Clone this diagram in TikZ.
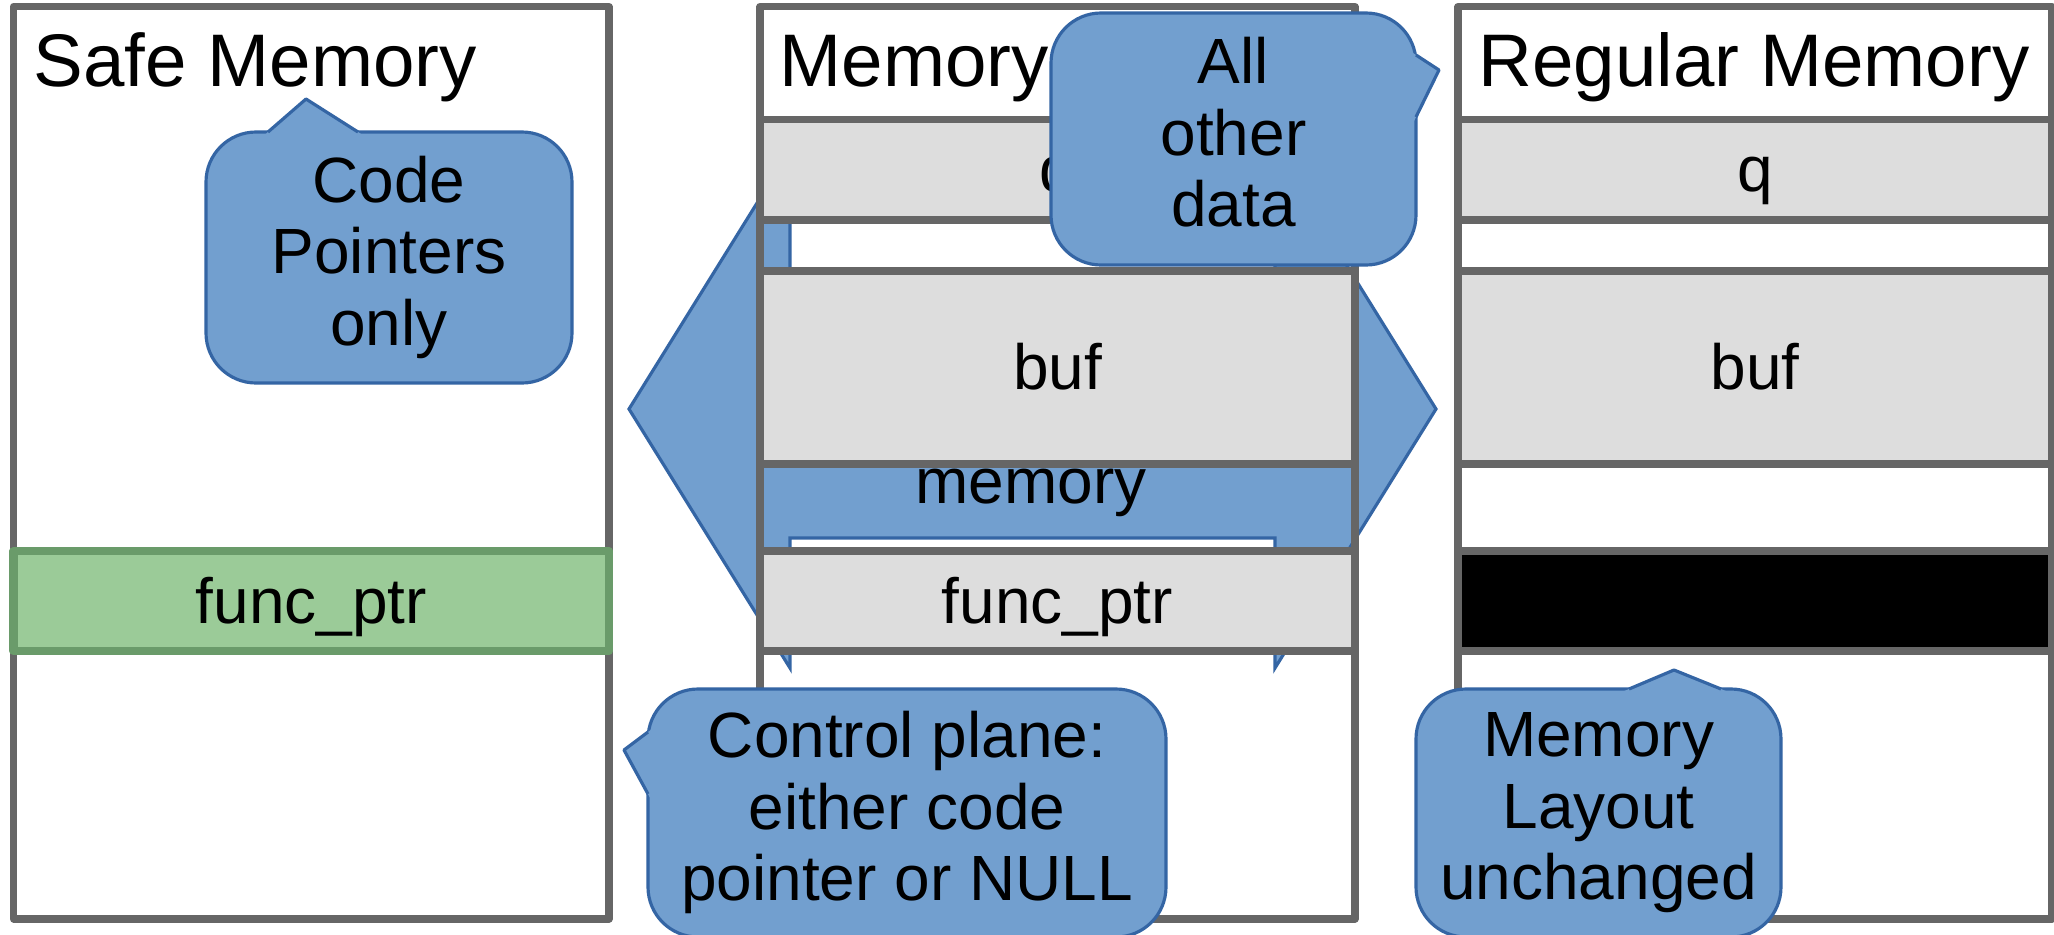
\documentclass[tikz,border=0pt]{standalone}
\usepackage{fontspec}
\setmainfont{Liberation Sans}
\usetikzlibrary{calc}
\definecolor{memgray}{RGB}{102,102,102}
\definecolor{cellgray}{RGB}{221,221,221}
\definecolor{safegreen}{RGB}{155,203,152}
\definecolor{safegreendark}{RGB}{106,155,106}
\definecolor{blobblue}{RGB}{114,159,207}
\definecolor{blobline}{RGB}{52,101,164}
\newcommand\hdrfont{\fontsize{21.2}{24}\selectfont}
\newcommand\txtfont{\fontsize{18.2}{20.34}\selectfont}

\begin{document}
\begin{tikzpicture}[
    panel/.style={rectangle, draw=memgray, line width=2pt, line join=round, minimum height=9.125cm, inner sep=0pt},
    cell/.style={rectangle, draw=memgray, fill=cellgray, line width=2pt, line join=round, font=\txtfont, text height=0.579cm, text depth=0.136cm, inner sep=0pt},
    hdr/.style={anchor=west, font=\hdrfont, inner sep=0pt, text height=0.665cm, text depth=0.156cm},
    blob/.style={rectangle, draw=blobline, fill=blobblue, line width=0.9pt, rounded corners=0.5cm, font=\txtfont, align=center, inner sep=0pt,
      execute at begin node=\rule{0pt}{0.905em}, execute at end node=\rule[-0.212em]{0pt}{0.212em}},
    tipline/.style={draw=blobline, line width=0.9pt, line join=round},
    arw/.style={draw=blobline, fill=blobblue, line width=0.9pt}
  ]
  \useasboundingbox (0,0) rectangle (20.54,-9.35);
  \clip (0,0) rectangle (20.54,-9.35);
  \fill[white] (0,0) rectangle (20.54,-9.35);

  % double arrow behind the middle column
  \draw[arw] (6.29,-4.09) -- (7.90,-1.50) -- (7.90,-2.80) -- (12.75,-2.80) -- (12.75,-1.50) -- (14.36,-4.09)
    -- (12.75,-6.68) -- (12.75,-5.38) -- (7.90,-5.38) -- (7.90,-6.68) -- cycle;
  \node[font=\txtfont, inner sep=0pt, text height=0.579cm, text depth=0.136cm] (arwT) at (10.31,-4.81) {memory};

  \node[panel, minimum width=5.955cm] (safe) at (3.1125,-4.6275) {};
  \node[panel, minimum width=5.95cm] (mid) at (10.575,-4.6275) {};
  \node[panel, minimum width=5.94cm] (reg) at (17.55,-4.6275) {};

  \node[hdr] (safeT) at (0.33,-0.61) {Safe Memory};
  \node[hdr] (midT) at (7.79,-0.61) {Memory};
  \node[hdr] (regT) at (14.78,-0.61) {Regular Memory};

  \node[cell, fill=safegreen, draw=safegreendark, line width=2.3pt, minimum width=5.955cm, minimum height=1.0cm] (safeFp) at (3.1125,-6.01) {func\_ptr};

  \node[cell, minimum width=5.95cm, minimum height=1.005cm] (midQ) at (10.575,-1.6975) {q};
  \node[cell, minimum width=5.95cm, minimum height=1.93cm] (midBuf) at (10.575,-3.675) {buf};
  \node[cell, minimum width=5.95cm, minimum height=1.0cm] (midFp) at (10.575,-6.01) {func\_ptr};

  \node[cell, minimum width=5.94cm, minimum height=1.005cm] (regQ) at (17.55,-1.6975) {q};
  \node[cell, minimum width=5.94cm, minimum height=1.93cm] (regBuf) at (17.55,-3.675) {buf};
  \node[cell, fill=black, minimum width=5.94cm, minimum height=1.0cm] (regFp) at (17.55,-6.01) {};

  % callouts
  \node[blob, minimum width=3.66cm, minimum height=2.51cm] (codeB) at (3.89,-2.575) {Code\\Pointers\\only};
  \node[blob, minimum width=3.65cm, minimum height=2.52cm] (otherB) at (12.335,-1.39) {All\\other\\data};
  \node[blob, minimum width=5.18cm, minimum height=2.48cm] (ctrlB) at (9.07,-8.13) {Control plane:\\either code\\pointer or NULL};
  \node[blob, minimum width=3.65cm, minimum height=2.48cm] (layoutB) at (15.985,-8.13) {Memory\\Layout\\unchanged};

  \coordinate (codeA) at (2.68,-1.32);
  \coordinate (codeP) at (3.06,-0.99);
  \coordinate (codeZ) at (3.58,-1.32);
  \coordinate (otherA) at (14.16,-0.55);
  \coordinate (otherP) at (14.39,-0.70);
  \coordinate (otherZ) at (14.16,-1.17);
  \coordinate (ctrlA) at (6.48,-7.32);
  \coordinate (ctrlP) at (6.24,-7.50);
  \coordinate (ctrlZ) at (6.48,-7.94);
  \coordinate (layoutA) at (16.29,-6.89);
  \coordinate (layoutP) at (16.74,-6.70);
  \coordinate (layoutZ) at (17.21,-6.89);

  \fill[blobblue] ($(codeP)!1.25!(codeA)$) -- (codeP) -- ($(codeP)!1.25!(codeZ)$) -- cycle;
  \draw[tipline] (codeA) -- (codeP) -- (codeZ);
  \fill[blobblue] ($(otherP)!1.25!(otherA)$) -- (otherP) -- ($(otherP)!1.25!(otherZ)$) -- cycle;
  \draw[tipline] (otherA) -- (otherP) -- (otherZ);
  \fill[blobblue] ($(ctrlP)!1.25!(ctrlA)$) -- (ctrlP) -- ($(ctrlP)!1.25!(ctrlZ)$) -- cycle;
  \draw[tipline] (ctrlA) -- (ctrlP) -- (ctrlZ);
  \fill[blobblue] ($(layoutP)!1.25!(layoutA)$) -- (layoutP) -- ($(layoutP)!1.25!(layoutZ)$) -- cycle;
  \draw[tipline] (layoutA) -- (layoutP) -- (layoutZ);
\end{tikzpicture}
\end{document}
